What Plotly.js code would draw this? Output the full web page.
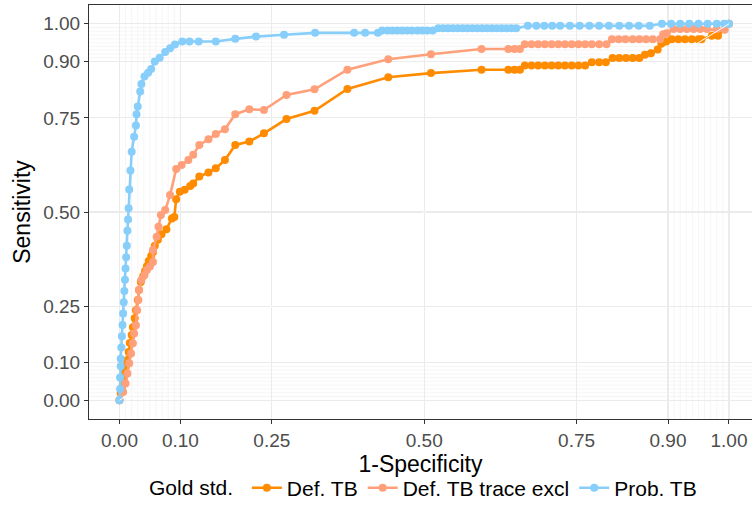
<!DOCTYPE html>
<html>
<head>
<meta charset="utf-8">
<script src="https://cdn.plot.ly/plotly-3.0.1.min.js"></script>
<style>html,body{margin:0;padding:0;background:#fff;}#chart{width:752px;height:525px;}</style>
</head>
<body>
<div id="chart"></div>
<script>
// Series names
const seriesNames = ['Def. TB', 'Def. TB trace excl', 'Prob. TB'];
const seriesColors = ['#FF8C00', '#FFA07A', '#87CEFA'];

// Def. TB  (1-Specificity, Sensitivity)
const defTB_fpr = [0,0.002,0.004,0.006,0.007,0.009,0.011,0.012,0.015,0.017,0.020,0.022,0.025,0.027,0.030,0.032,0.035,0.039,0.042,0.045,0.048,0.052,0.055,0.058,0.063,0.069,0.077,0.086,0.090,0.093,0.099,0.107,0.116,0.121,0.131,0.146,0.158,0.173,0.190,0.213,0.237,0.274,0.320,0.374,0.441,0.511,0.594,0.638,0.648,0.657,
  0.665,0.676,0.687,0.698,0.709,0.720,0.731,0.742,0.753,0.764,
  0.775,0.787,0.798,
  0.809,0.820,0.831,0.842,0.853,
  0.862,0.872,0.883,0.889,0.897,
  0.906,0.917,0.928,0.939,0.950,0.955,
  0.972,0.982,1.0];
const defTB_tpr = [0,0.019,0.032,0.045,0.059,0.074,0.090,0.106,0.128,0.152,0.173,0.194,0.218,0.239,0.266,0.293,0.314,0.330,0.343,0.356,0.370,0.383,0.394,0.410,0.426,0.441,0.454,0.483,0.487,0.534,0.554,0.559,0.569,0.576,0.594,0.605,0.616,0.638,0.678,0.687,0.709,0.747,0.769,0.827,0.858,0.869,0.878,0.878,0.878,0.878,
  0.889,0.889,0.889,0.889,0.889,0.889,0.889,0.889,0.889,0.889,
  0.898,0.898,0.898,
  0.909,0.909,0.909,0.909,0.909,
  0.918,0.922,0.932,0.947,0.953,
  0.959,0.959,0.959,0.959,0.959,0.959,
  0.968,0.968,1.0];

// Def. TB trace excl
const defTBx_fpr = [0,0.006,0.010,0.013,0.016,0.019,0.022,0.024,0.027,0.029,0.031,0.032,0.036,0.041,0.045,0.050,0.055,0.055,0.061,0.064,0.068,0.075,0.083,0.093,0.102,0.113,0.121,0.131,0.146,0.158,0.173,0.190,0.213,0.237,0.274,0.320,0.374,0.441,0.511,0.594,0.638,0.648,0.657,
  0.665,0.676,0.687,0.698,0.709,0.720,0.731,0.742,0.753,0.764,0.775,0.787,0.799,
  0.808,0.819,0.830,0.842,0.853,0.864,0.875,0.887,
  0.892,0.898,
  0.909,0.920,0.931,0.942,0.953,0.964,0.980,
  0.993,1.0];
const defTBx_tpr = [0,0.022,0.044,0.071,0.098,0.124,0.151,0.177,0.199,0.239,0.266,0.293,0.319,0.332,0.346,0.355,0.367,0.399,0.434,0.461,0.492,0.505,0.545,0.614,0.625,0.638,0.652,0.678,0.693,0.707,0.720,0.760,0.773,0.771,0.811,0.826,0.878,0.906,0.919,0.933,0.933,0.933,0.933,
  0.946,0.946,0.946,0.946,0.946,0.946,0.946,0.946,0.946,0.946,0.946,0.946,0.946,
  0.959,0.959,0.959,0.959,0.959,0.959,0.959,0.959,
  0.972,0.975,
  0.986,0.986,0.986,0.986,0.986,0.986,0.986,
  0.984,1.0];

// Prob. TB
const probTB_fpr = [0,0.001,0.001,0.002,0.002,0.003,0.004,0.005,0.006,0.007,0.008,0.009,0.010,0.011,0.012,0.013,0.014,0.015,0.016,0.018,0.020,0.024,0.027,0.028,0.030,0.034,0.036,0.041,0.047,0.052,0.058,0.066,0.075,0.083,0.091,0.103,0.115,0.130,0.158,0.190,0.224,0.270,0.321,0.385,0.403,0.424,
  0.431,0.440,0.448,0.456,0.464,0.472,0.480,0.489,0.497,0.505,0.514,
  0.523,0.531,0.539,0.547,0.555,0.563,0.571,0.579,0.587,0.595,0.603,0.611,0.619,0.627,0.635,0.643,0.651,
  0.670,0.684,0.697,0.710,0.723,0.739,0.755,0.771,0.787,0.803,0.820,0.836,0.852,0.870,
  0.890,0.905,0.920,0.935,0.950,0.965,0.980,0.992,1.0];
const probTB_tpr = [0,0.03,0.06,0.09,0.11,0.14,0.17,0.20,0.23,0.26,0.29,0.32,0.35,0.38,0.41,0.45,0.48,0.51,0.56,0.61,0.66,0.70,0.73,0.76,0.78,0.82,0.84,0.86,0.87,0.88,0.90,0.91,0.925,0.935,0.945,0.953,0.953,0.953,0.953,0.960,0.966,0.971,0.976,0.976,0.976,0.976,
  0.982,0.982,0.982,0.982,0.982,0.982,0.982,0.982,0.982,0.982,0.982,
  0.988,0.988,0.988,0.988,0.988,0.988,0.988,0.988,0.988,0.988,0.988,0.988,0.988,0.988,0.988,0.988,0.988,
  0.995,0.995,0.995,0.995,0.995,0.995,0.995,0.995,0.995,0.995,0.995,0.995,0.995,0.995,
  1.0,1.0,1.0,1.0,1.0,1.0,1.0,1.0,1.0];

// Axis ticks
const tickVals = [0, 0.1, 0.25, 0.5, 0.75, 0.9, 1];
const tickText = ['0.00', '0.10', '0.25', '0.50', '0.75', '0.90', '1.00'];
const minorVals = [0.01,0.02,0.03,0.04,0.05,0.06,0.07,0.08,0.09,0.91,0.92,0.93,0.94,0.95,0.96,0.97,0.98,0.99];
const refLine = [0, 1];

const xs = [defTB_fpr, defTBx_fpr, probTB_fpr];
const ys = [defTB_tpr, defTBx_tpr, probTB_tpr];

const traces = seriesNames.map((n, i) => ({
  type: 'scatter', mode: 'lines+markers', name: n,
  x: xs[i], y: ys[i],
  line: {color: seriesColors[i], width: 2.6},
  marker: {color: seriesColors[i], size: 8}
}));
traces.push({
  type: 'scatter', mode: 'lines', x: refLine, y: refLine,
  line: {color: '#ffffff', width: 1}, showlegend: false, hoverinfo: 'skip'
});

// minor grid lines (ggplot-style minor breaks) as background shapes
const minorStyle = {color: '#F1F1F1', width: 0.7};
const shapes = [];
minorVals.forEach(v => {
  shapes.push({type: 'line', layer: 'below', xref: 'x', yref: 'paper', x0: v, x1: v, y0: 0, y1: 1, line: minorStyle});
  shapes.push({type: 'line', layer: 'below', xref: 'paper', yref: 'y', x0: 0, x1: 1, y0: v, y1: v, line: minorStyle});
});

const axisCommon = {
  tickmode: 'array', tickvals: tickVals, ticktext: tickText,
  ticks: 'outside', ticklen: 4, tickwidth: 1, tickcolor: '#333333',
  tickfont: {family: 'Liberation Sans, Arial, sans-serif', size: 19, color: '#4D4D4D'},
  showgrid: true, gridcolor: '#EBEBEB', gridwidth: 1.1,
  zeroline: false,
  showline: true, mirror: true, linecolor: '#333333', linewidth: 1
};

const layout = {
  width: 752, height: 525,
  margin: {l: 89, r: 0, t: 5, b: 106},
  paper_bgcolor: '#ffffff', plot_bgcolor: '#ffffff',
  font: {family: 'Liberation Sans, Arial, sans-serif', color: '#000000'},
  xaxis: Object.assign({}, axisCommon, {
    range: [-0.05, 1.0378],
    title: {text: '1-Specificity', font: {size: 23, color: '#000'}, standoff: 6}
  }),
  yaxis: Object.assign({}, axisCommon, {
    range: [-0.05, 1.05],
    title: {text: 'Sensitivity', font: {size: 23, color: '#000'}, standoff: 6}
  }),
  shapes: shapes,
  showlegend: true,
  legend: {
    orientation: 'h', x: 0.506, xanchor: 'center', y: -0.167, yanchor: 'middle',
    title: {text: 'Gold std. ', side: 'left', font: {size: 21, color: '#000'}},
    font: {size: 21, color: '#000'},
    itemwidth: 30, tracegroupgap: 0
  }
};

Plotly.newPlot('chart', traces, layout, {displayModeBar: false, staticPlot: true});
</script>
</body>
</html>
